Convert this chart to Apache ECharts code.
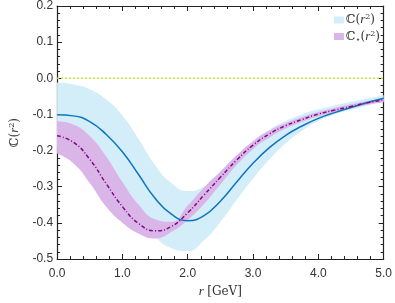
<!DOCTYPE html>
<html><head><meta charset="utf-8">
<script src="https://cdn.jsdelivr.net/npm/echarts@6/dist/echarts.min.js"></script>
<style>html,body{margin:0;padding:0;background:#fff}#c{width:395px;height:303px}</style>
</head><body><div id="c"></div>
<script>
const r = [0,0.25,0.5,0.75,1.0,1.25,1.5,1.75,2.0,2.25,2.5,2.75,3.0,3.25,3.5,3.75,4.0,4.25,4.5,4.75,5.0];
const C = [-0.101,-0.104,-0.120,-0.155,-0.203,-0.267,-0.332,-0.376,-0.394,-0.380,-0.340,-0.287,-0.235,-0.192,-0.158,-0.132,-0.111,-0.095,-0.081,-0.067,-0.055];
const C_up = [-0.012,-0.017,-0.030,-0.058,-0.103,-0.168,-0.240,-0.290,-0.312,-0.300,-0.265,-0.218,-0.174,-0.142,-0.118,-0.100,-0.086,-0.075,-0.065,-0.056,-0.047];
const C_lo = [-0.190,-0.193,-0.212,-0.252,-0.312,-0.380,-0.438,-0.470,-0.478,-0.448,-0.398,-0.336,-0.278,-0.225,-0.180,-0.145,-0.118,-0.100,-0.087,-0.075,-0.064];
const Cs = [-0.159,-0.177,-0.224,-0.291,-0.355,-0.402,-0.422,-0.410,-0.372,-0.323,-0.274,-0.226,-0.185,-0.154,-0.131,-0.114,-0.099,-0.088,-0.078,-0.068,-0.060];
const Cs_up = [-0.119,-0.128,-0.160,-0.216,-0.287,-0.350,-0.390,-0.397,-0.352,-0.302,-0.258,-0.213,-0.174,-0.145,-0.124,-0.107,-0.093,-0.082,-0.072,-0.063,-0.055];
const Cs_lo = [-0.208,-0.235,-0.290,-0.355,-0.400,-0.430,-0.443,-0.425,-0.392,-0.348,-0.294,-0.240,-0.196,-0.164,-0.139,-0.121,-0.105,-0.094,-0.083,-0.073,-0.066];
const zeroLevel = 0;

const blueBand = '#d3eef9', purpleBand = '#dab6e8';
const blueLine = '#0f74bd', purpleLine = '#7d0a84';
// band width as a negative offset below the upper edge (same sign as the base)
const diff = (u,l) => u.map((v,i)=>+(l[i] - v).toFixed(4));

const chart = echarts.init(document.getElementById('c'), null, {renderer:'canvas'});
const axisCol = '#222';
const labelFont = {color:'#333', fontSize:12, fontFamily:'Liberation Sans, Arial, sans-serif'};
const serifRich = {
  a:{fontFamily:'DejaVu Serif, Liberation Serif, serif', fontSize:12, color:'#333'},
  i:{fontFamily:'Liberation Serif, serif', fontStyle:'italic', fontSize:13, color:'#333'},
  s:{fontFamily:'DejaVu Serif, serif', fontSize:8, color:'#333', verticalAlign:'top', padding:[0,0,6,0]},
  b:{fontFamily:'DejaVu Sans, serif', fontSize:8, color:'#333', padding:[6,0,0,0]}
};
const bandLine = {width:0, opacity:0};
const tickCommon = {
  axisLine:{show:true, onZero:false, lineStyle:{color:axisCol, width:1.2}},
  axisTick:{show:true, inside:true, length:5, lineStyle:{color:axisCol}},
  minorTick:{show:true, splitNumber:5, length:3, lineStyle:{color:axisCol}},
  splitLine:{show:false}
};
const sm = {smooth:0.5, symbol:'none', xAxisIndex:2};
chart.setOption({
  animation:false,
  grid:{left:45, right:11, top:4, bottom:37},
  legend:{
    orient:'vertical', right:10, top:8, itemWidth:10, itemHeight:7, itemGap:3,
    icon:'rect', align:'left',
    data:[{name:'C', itemStyle:{color:blueBand}}, {name:'Cs', itemStyle:{color:purpleBand}}],
    formatter: n => n==='C' ? '{a|ℂ(}{i|r}{s|2}{a|)}' : '{a|ℂ}{b|⋆}{a|(}{i|r}{s|2}{a|)}',
    textStyle:{rich:serifRich, padding:[0,0,0,-3]}
  },
  xAxis:[{
    type:'value', min:0, max:5, interval:1, position:'bottom', ...tickCommon,
    name:'{i|r} {a|[GeV]}', nameLocation:'middle', nameGap:26,
    nameTextStyle:{rich:serifRich},
    axisLabel:{...labelFont, margin:9, formatter:v=>v.toFixed(1)}
  },{
    type:'value', min:0, max:5, interval:1, position:'top', ...tickCommon,
    axisLabel:{show:false}
  },{
    type:'category', data:r, boundaryGap:false, show:false
  }],
  yAxis:[{
    type:'value', min:-0.5, max:0.2, interval:0.1, position:'left', ...tickCommon,
    name:'{a|ℂ(}{i|r}{s|2}{a|)}', nameLocation:'middle', nameGap:31, nameRotate:90,
    nameTextStyle:{rich:serifRich},
    axisLabel:{...labelFont, margin:4, formatter:v=>v.toFixed(1)}
  },{
    type:'value', min:-0.5, max:0.2, interval:0.1, position:'right', ...tickCommon,
    axisLabel:{show:false}
  }],
  series:[
    {name:'C_base', type:'line', ...sm, stack:'b', data:C_up, lineStyle:bandLine, silent:true},
    {name:'C', type:'line', ...sm, stack:'b', data:diff(C_up,C_lo), lineStyle:bandLine,
      itemStyle:{color:blueBand}, areaStyle:{color:blueBand, opacity:1}},
    {name:'Cs_base', type:'line', ...sm, stack:'p', data:Cs_up, lineStyle:bandLine, silent:true},
    {name:'Cs', type:'line', ...sm, stack:'p', data:diff(Cs_up,Cs_lo), lineStyle:bandLine,
      itemStyle:{color:purpleBand}, areaStyle:{color:purpleBand, opacity:1}},
    {name:'zero', type:'line', xAxisIndex:2, data:r.map(()=>zeroLevel), symbol:'none', lineStyle:{color:'#c8e040', width:1.5, type:[2,2]}},
    {name:'Cline', type:'line', ...sm, data:C, lineStyle:{color:blueLine, width:1.5}},
    {name:'Csline', type:'line', ...sm, data:Cs, lineStyle:{color:purpleLine, width:1.5, type:[4,2,1,2]}}
  ]
});
</script></body></html>
